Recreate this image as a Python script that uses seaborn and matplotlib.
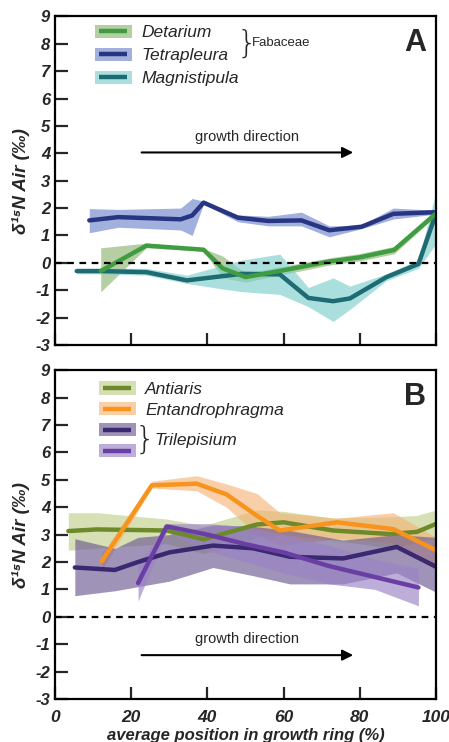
import numpy as np
import pandas as pd
import matplotlib
matplotlib.use("Agg")
import matplotlib.pyplot as plt
import seaborn as sns
from matplotlib.patches import Rectangle
from matplotlib.lines import Line2D

# ---- panel A data (position %, mean, band low, band high)
det_x = [12, 24, 39, 44, 50, 60, 72, 80, 89, 100]
det_y = [-0.3, 0.63, 0.48, -0.2, -0.52, -0.27, 0.05, 0.2, 0.47, 1.8]
det_lo = [-1.06, 0.55, 0.43, -0.55, -0.7, -0.42, -0.08, 0.07, 0.33, 1.72]
det_hi = [0.55, 0.72, 0.52, 0.25, -0.38, -0.12, 0.18, 0.34, 0.6, 1.88]

tet_x = [9, 16.6, 33, 36, 39, 48, 56, 64.7, 72, 80.5, 88.8, 100]
tet_y = [1.55, 1.67, 1.59, 1.73, 2.2, 1.65, 1.53, 1.55, 1.19, 1.32, 1.79, 1.85]
tet_lo = [1.1, 1.3, 1.2, 1.0, 2.15, 1.5, 1.35, 1.35, 0.95, 1.25, 1.6, 1.78]
tet_hi = [1.98, 1.95, 2.0, 2.35, 2.25, 1.75, 1.7, 1.85, 1.35, 1.38, 2.0, 1.92]

mag_x = [5.7, 12, 24, 34.6, 43.7, 49, 59, 66.5, 73, 77.4, 87, 95.4, 100]
mag_y = [-0.3, -0.3, -0.34, -0.64, -0.49, -0.4, -0.42, -1.28, -1.4, -1.3, -0.52, -0.04, 1.8]
mag_lo = [-0.4, -0.4, -0.45, -0.75, -0.95, -1.05, -1.15, -1.6, -2.14, -1.7, -0.65, -0.2, 0.7]
mag_hi = [-0.2, -0.2, -0.2, -0.45, -0.1, 0.1, 0.32, -0.9, -0.55, -0.85, -0.4, 0.1, 2.6]

# ---- panel B data
ant_x = [3.5, 11, 29.3, 39, 53, 60, 73, 88, 95, 100]
ant_y = [3.13, 3.19, 3.15, 2.83, 3.37, 3.45, 3.15, 3.02, 3.1, 3.39]
ant_lo = [2.43, 2.5, 2.67, 2.31, 2.9, 3.0, 2.8, 2.5, 2.7, 2.9]
ant_hi = [3.8, 3.8, 3.57, 3.33, 3.9, 3.85, 3.6, 3.65, 3.7, 3.9]

ent_x = [12.3, 25.4, 37.2, 45, 53, 59, 74, 88.8, 100]
ent_y = [2.03, 4.8, 4.86, 4.47, 3.69, 3.15, 3.45, 3.2, 2.43]
ent_lo = [1.7, 4.7, 4.6, 4.0, 3.0, 2.6, 2.85, 2.7, 1.7]
ent_hi = [2.3, 4.95, 5.15, 4.85, 4.5, 3.8, 3.6, 3.8, 2.9]

tri1_x = [5.2, 15.7, 21.8, 30, 41.5, 52, 61.7, 75.6, 89.7, 100]
tri1_y = [1.8, 1.71, 2.0, 2.35, 2.6, 2.5, 2.19, 2.13, 2.55, 1.83]
tri1_lo = [0.77, 0.95, 1.1, 1.3, 1.8, 1.5, 1.2, 1.2, 1.6, 0.9]
tri1_hi = [2.85, 2.5, 2.9, 3.0, 3.35, 3.3, 3.15, 2.8, 3.0, 2.9]

tri2_x = [21.8, 29.3, 40, 50, 60, 72, 84, 95.4]
tri2_y = [1.23, 3.3, 3.0, 2.65, 2.35, 1.85, 1.45, 1.07]
tri2_lo = [0.57, 3.1, 2.4, 2.0, 1.6, 1.2, 1.0, 0.4]
tri2_hi = [1.9, 3.4, 3.4, 3.3, 3.0, 2.6, 2.1, 1.77]

X_TICKS = [0, 20, 40, 60, 80, 100]
Y_TICKS = list(range(-3, 10))

sns.set_style("white")
plt.rcParams["font.family"] = ["Liberation Sans", "DejaVu Sans"]
plt.rcParams["axes.unicode_minus"] = False

fig = plt.figure(figsize=(4.49, 7.42), dpi=100)
axA = fig.add_axes([0.1225, 0.535, 0.8485, 0.443])
axB = fig.add_axes([0.1225, 0.058, 0.8485, 0.443])


class BandKey:
    def __init__(self, line_color, band_color, alpha):
        self.line_color = line_color
        self.band_color = band_color
        self.alpha = alpha


class BandKeyHandler:
    # legend key: light band rectangle with a shorter thick line inside
    def legend_artist(self, legend, orig_handle, fontsize, handlebox):
        x0, y0 = handlebox.xdescent, handlebox.ydescent
        w, h = handlebox.width, handlebox.height
        rect = Rectangle((-x0, -y0), w, h, facecolor=orig_handle.band_color,
                         alpha=orig_handle.alpha, lw=0,
                         transform=handlebox.get_transform())
        ln = Line2D([-x0 + 0.1 * w, -x0 + 0.88 * w], [-y0 + h / 2] * 2,
                    color=orig_handle.line_color, lw=3.2, solid_capstyle="butt",
                    transform=handlebox.get_transform())
        handlebox.add_artist(rect)
        handlebox.add_artist(ln)
        return rect


def draw_series(ax, x, y, lo, hi, line_color, band_color, band_alpha):
    ax.fill_between(x, lo, hi, color=band_color, alpha=band_alpha, lw=0)
    df = pd.DataFrame({"x": x, "y": y})
    sns.lineplot(data=df, x="x", y="y", ax=ax, color=line_color, lw=3.2,
                 sort=False, estimator=None, legend=False)


def style_axis(ax, show_xlabels):
    ax.set_xlim(0, 100)
    ax.set_ylim(-3, 9)
    ax.set_yticks(Y_TICKS)
    ax.set_xticks(X_TICKS)
    for s in ax.spines.values():
        s.set_linewidth(1.6)
        s.set_color("black")
    ax.tick_params(axis="both", direction="in", length=9, width=1.6,
                   left=True, bottom=True, right=False, top=False)
    ax.tick_params(axis="x", pad=8)
    ax.set_yticklabels([str(v) for v in Y_TICKS], fontsize=12,
                       fontweight="bold", fontstyle="italic")
    if show_xlabels:
        ax.set_xticklabels([str(v) for v in X_TICKS], fontsize=12.5,
                           fontweight="bold", fontstyle="italic")
        ax.set_xlabel("average position in growth ring (%)", fontsize=12,
                      fontweight="bold", fontstyle="italic", labelpad=2)
    else:
        ax.set_xticklabels([])
        ax.set_xlabel("")
    ax.set_ylabel("δ¹⁵N Air (‰)", fontsize=13.5, fontweight="bold",
                  fontstyle="italic", labelpad=4)
    ax.axhline(0, color="black", ls=(0, (3, 2.5)), lw=1.6, zorder=5)


legend_kw = dict(loc="upper left", frameon=False,
                 prop={"size": 12.5, "style": "italic"}, handlelength=2.1,
                 handleheight=0.8, handletextpad=0.55,
                 handler_map={BandKey: BandKeyHandler()})

# ---- panel A
colA = {
    "det": ("#3f9c41", "#8fb573", 0.65),
    "tet": ("#283583", "#6f86cc", 0.65),
    "mag": ("#1d6b73", "#7fcfcb", 0.65),
}
for key, x, lo, hi in [("tet", tet_x, tet_lo, tet_hi),
                       ("det", det_x, det_lo, det_hi),
                       ("mag", mag_x, mag_lo, mag_hi)]:
    axA.fill_between(x, lo, hi, color=colA[key][1], alpha=colA[key][2], lw=0)
for key, x, y in [("tet", tet_x, tet_y), ("mag", mag_x, mag_y), ("det", det_x, det_y)]:
    df = pd.DataFrame({"x": x, "y": y})
    sns.lineplot(data=df, x="x", y="y", ax=axA, color=colA[key][0], lw=3.2,
                 sort=False, estimator=None, legend=False)
style_axis(axA, False)

axA.legend([BandKey(*colA[k]) for k in ["det", "tet", "mag"]],
           ["Detarium", "Tetrapleura", "Magnistipula"],
           bbox_to_anchor=(0.065, 1.022), labelspacing=0.42, **legend_kw)
axA.text(0.476, 0.918, "}", transform=axA.transAxes, fontsize=23,
         va="center", ha="left", family="DejaVu Sans", fontweight="ultralight")
axA.text(0.518, 0.92, "Fabaceae", transform=axA.transAxes, fontsize=9.5,
         va="center", ha="left")
axA.text(0.945, 0.918, "A", transform=axA.transAxes, fontsize=22,
         fontweight="bold", ha="center", va="center")
axA.annotate("", xy=(79, 4.03), xytext=(22, 4.03),
             arrowprops=dict(arrowstyle="-|>", color="black", lw=1.5,
                             mutation_scale=16))
axA.text(50.5, 4.6, "growth direction", fontsize=10.5, ha="center", va="center")

# ---- panel B
colB = {
    "ant": ("#6d8a2b", "#c7d394", 0.7),
    "ent": ("#f7941d", "#f6b072", 0.6),
    "tri1": ("#3a2870", "#6e5a92", 0.65),
    "tri2": ("#6a3fa3", "#9a83c6", 0.65),
}
for key, x, y, lo, hi in [("ant", ant_x, ant_y, ant_lo, ant_hi),
                          ("ent", ent_x, ent_y, ent_lo, ent_hi),
                          ("tri1", tri1_x, tri1_y, tri1_lo, tri1_hi),
                          ("tri2", tri2_x, tri2_y, tri2_lo, tri2_hi)]:
    draw_series(axB, x, y, lo, hi, *colB[key])
style_axis(axB, True)

axB.legend([BandKey(*colB[k]) for k in ["ant", "ent", "tri1", "tri2"]],
           ["Antiaris", "Entandrophragma", "", ""],
           bbox_to_anchor=(0.075, 1.014), labelspacing=0.3, **legend_kw)
axB.text(0.209, 0.79, "}", transform=axB.transAxes, fontsize=23,
         va="center", ha="left", family="DejaVu Sans", fontweight="ultralight")
axB.text(0.262, 0.787, "Trilepisium", transform=axB.transAxes, fontsize=12.5,
         fontstyle="italic", va="center", ha="left")
axB.text(0.945, 0.918, "B", transform=axB.transAxes, fontsize=22,
         fontweight="bold", ha="center", va="center")
axB.annotate("", xy=(79, -1.4), xytext=(22, -1.4),
             arrowprops=dict(arrowstyle="-|>", color="black", lw=1.5,
                             mutation_scale=16))
axB.text(50.5, -0.8, "growth direction", fontsize=10.5, ha="center", va="center")

fig.savefig("out.png", dpi=100)
